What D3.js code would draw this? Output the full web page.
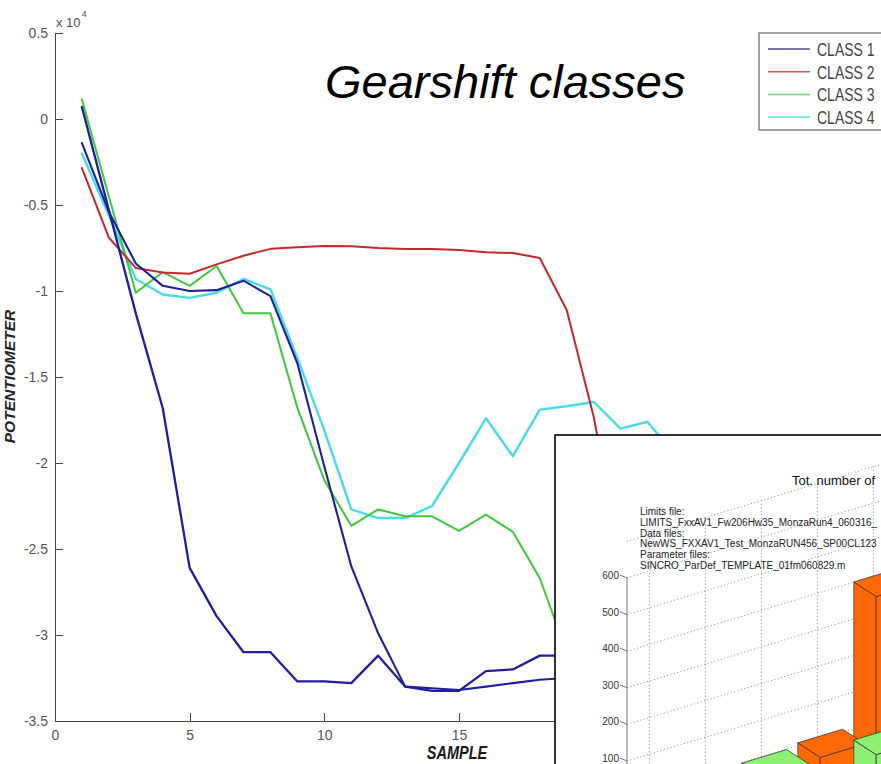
<!DOCTYPE html>
<head>
  <meta charset="utf-8">
  <script src="https://d3js.org/d3.v7.min.js"></script>
  <title>Gearshift classes</title>
  <style>
    body { margin: 0; background: #fff; }
    svg { display: block; font-family: 'Liberation Sans', Arial, sans-serif; }
    .axis path, .axis line { fill: none; stroke: #444; shape-rendering: crispEdges; }
    .axis text { fill: #555; font-size: 14px; font-family: 'Liberation Sans', Arial, sans-serif; }
    .line { fill: none; stroke-linejoin: round; stroke-linecap: round; }
    .grid3d { fill: none; stroke: #8a8a8a; stroke-width: 1; stroke-dasharray: 1,2.5; }
    .bar3d { stroke: #2a2a2a; stroke-width: 0.7; stroke-linejoin: round; }
  </style>
</head>
<body>
<svg width="881" height="764"></svg>
<script>

// ---- main chart data (values in raw units, axis shows x 10^4) ----
var classNames = ["CLASS 1", "CLASS 2", "CLASS 3", "CLASS 4"];
var class1a = [700, -5300, -11300, -16800, -26100, -28900, -31000, -31000, -32700, -32700,
               -32800, -31200, -33000, -33250, -33250, -32100, -32000, -31200, -31200, -31300];
var class1b = [-1400, -5400, -8400, -9700, -10000, -9950, -9400, -10300, -14200, -20200,
               -26000, -29900, -33000, -33100, -33200, -33000, -32800, -32600, -32500, -32400];
var class2 = [-2850, -6900, -8660, -8920, -9000, -8450, -7950, -7550, -7450, -7380,
              -7400, -7500, -7560, -7560, -7620, -7740, -7790, -8080, -11100, -17300, -25500, -31000];
var class3 = [1150, -4500, -10100, -8900, -9700, -8550, -11300, -11300, -16800, -21000,
              -23650, -22700, -23100, -23100, -23950, -23000, -24000, -26700, -31000, -32500];
var class4 = [-2000, -5600, -9300, -10200, -10400, -10100, -9300, -9900, -13900, -18100,
              -22700, -23200, -23200, -22500, -20000, -17400, -19600, -16900, -16700, -16450,
              -18000, -17600, -19500];
var yTicks = [5000, 0, -5000, -10000, -15000, -20000, -25000, -30000, -35000];
var xTicks = [0, 5, 10, 15, 20, 25];

// ---- inset (3D bar screenshot) data ----
var insetTitle = "Tot. number of";
var insetNotes = ["Limits file:", "LIMITS_FxxAV1_Fw206Hw35_MonzaRun4_060316_", "Data files:",
                  "NewWS_FXXAV1_Test_MonzaRUN456_SP00CL123", "Parameter files:",
                  "SINCRO_ParDef_TEMPLATE_01fm060829.m"];
var insetZTicks = [100, 200, 300, 400, 500, 600];
var insetGridZ = [0, 100, 200, 300, 400, 500, 600, 700];
var insetGridU = [1, 2, 3, 4, 5, 6];
var barCol = [4, 3, 3, 1];
var barRow = [3, 3, 5, 5];
var barCount = [554, 161, 268, 298];
var barGroup = [0, 0, 1, 1];

// styles
var seriesColor = { c1: "#1f1f9c", c2: "#c4282a", c3: "#3fc83f", c4: "#46dde6" };
var legendColor = ["#4b4b92", "#c85a5a", "#6ad86a", "#5ee0e4"];
var barColor = ["#ff6a06", "#8cf070"];

var svg = d3.select("svg");

var x = d3.scaleLinear().domain([0, 25]).range([55, 728.3]);
var y = d3.scaleLinear().domain([-35000, 5000]).range([721, 33]);

// axes
svg.append("g")
    .attr("class", "axis")
    .attr("transform", "translate(0,721)")
    .call(d3.axisBottom(x).tickValues(xTicks).tickSize(-8).tickSizeOuter(0).tickPadding(9)
        .tickFormat(function(d) { return String(d); }));

svg.append("g")
    .attr("class", "axis")
    .attr("transform", "translate(55,0)")
    .call(d3.axisLeft(y).tickValues(yTicks).tickSize(-8).tickSizeOuter(0).tickPadding(7)
        .tickFormat(function(d) { return String(d / 10000); }));

svg.append("text").attr("x", 56).attr("y", 26.5)
    .attr("font-size", 13).attr("fill", "#555").text("x 10");
svg.append("text").attr("x", 81.5).attr("y", 16.5)
    .attr("font-size", 9.5).attr("fill", "#555").text("4");

// axis labels (the source figure is squeezed sideways, so glyphs are stretched up)
svg.append("text")
    .attr("transform", "translate(15,376.5) rotate(-90)")
    .attr("text-anchor", "middle")
    .attr("font-size", 15.5).attr("font-style", "italic").attr("font-weight", "bold")
    .attr("fill", "#222").text("POTENTIOMETER");

svg.append("text")
    .attr("transform", "translate(457,759) scale(1,1.3)")
    .attr("text-anchor", "middle")
    .attr("font-size", 14.5).attr("font-style", "italic").attr("font-weight", "bold")
    .attr("fill", "#1a1a1a").text("SAMPLE");

// lines
var line = d3.line()
    .x(function(d, i) { return x(i + 1); })
    .y(function(d) { return y(d); });

var series = [
  { values: class4, color: seriesColor.c4, w: 2.4 },
  { values: class3, color: seriesColor.c3, w: 2 },
  { values: class2, color: seriesColor.c2, w: 2 },
  { values: class1b, color: seriesColor.c1, w: 2.1 },
  { values: class1a, color: seriesColor.c1, w: 2.3 }
];

svg.selectAll(".line")
    .data(series)
    .enter().append("path")
    .attr("class", "line")
    .attr("d", function(d) { return line(d.values); })
    .style("stroke", function(d) { return d.color; })
    .style("stroke-width", function(d) { return d.w; });

// title
svg.append("text")
    .attr("x", 325).attr("y", 98)
    .attr("font-size", 47).attr("font-style", "italic")
    .attr("fill", "#000").text("Gearshift classes");

// legend
var legend = svg.append("g").attr("transform", "translate(759,33)");
legend.append("rect")
    .attr("width", 140).attr("height", 97)
    .attr("fill", "#fff").attr("stroke", "#666").attr("stroke-width", 1.2);
var items = legend.selectAll(".item")
    .data(classNames)
    .enter().append("g")
    .attr("class", "item")
    .attr("transform", function(d, i) { return "translate(0," + (16 + i * 22.7) + ")"; });
items.append("line")
    .attr("x1", 9).attr("x2", 51)
    .attr("stroke", function(d, i) { return legendColor[i]; })
    .attr("stroke-width", 1.5);
items.append("text")
    .attr("transform", "translate(58,7) scale(1,1.3)")
    .attr("font-size", 14).attr("fill", "#444")
    .text(function(d) { return d; });

// ---- inset: 3D bar chart screenshot ----
var inset = svg.append("g");
inset.append("rect")
    .attr("x", 555).attr("y", 435)
    .attr("width", 360).attr("height", 360)
    .attr("fill", "#fff").attr("stroke", "#000").attr("stroke-width", 1.6);

var zS = d3.scaleLinear().domain([0, 600]).range([797.6, 578]);
var uS = d3.scaleLinear().domain([0.6, 1.6]).range([0, 56]);
var wS = d3.scaleLinear().domain([0.5, 1.5]).range([0, 28]);
function proj(u, w, z) {
  return [627 + uS(u) + wS(w), zS(z) - 0.304 * uS(u) + 0.65 * wS(w)];
}

// back wall grid
var gridLine = d3.line();
inset.selectAll(".gz")
    .data(insetGridZ)
    .enter().append("path")
    .attr("class", "grid3d")
    .attr("d", function(z) { return gridLine([proj(0.6, 0.5, z), proj(6.6, 0.5, z)]); });
inset.selectAll(".gu")
    .data(insetGridU)
    .enter().append("path")
    .attr("class", "grid3d")
    .attr("d", function(u) { return gridLine([proj(u, 0.5, 0), proj(u, 0.5, 700)]); });

// z axis
inset.append("line")
    .attr("x1", proj(0.6, 0.5, 0)[0]).attr("y1", proj(0.6, 0.5, 0)[1])
    .attr("x2", proj(0.6, 0.5, 600)[0]).attr("y2", proj(0.6, 0.5, 600)[1])
    .attr("stroke", "#777").attr("stroke-width", 1);
var zt = inset.selectAll(".zt")
    .data(insetZTicks)
    .enter().append("g");
zt.append("line")
    .attr("x1", function(z) { return proj(0.6, 0.5, z)[0] - 7; })
    .attr("y1", function(z) { return proj(0.6, 0.5, z)[1] - 3; })
    .attr("x2", function(z) { return proj(0.6, 0.5, z)[0]; })
    .attr("y2", function(z) { return proj(0.6, 0.5, z)[1]; })
    .attr("stroke", "#777");
zt.append("text")
    .attr("x", function(z) { return proj(0.6, 0.5, z)[0] - 8; })
    .attr("y", function(z) { return proj(0.6, 0.5, z)[1] + 1; })
    .attr("text-anchor", "end")
    .attr("font-size", 10).attr("fill", "#333")
    .text(function(z) { return z; });

// bars, painted back to front
var bars = barCol.map(function(c, i) {
  return { u: c, w: barRow[i], h: barCount[i], g: barGroup[i] };
}).sort(function(a, b) { return (a.w - a.u) - (b.w - b.u); });

var poly = d3.line().curve(d3.curveLinearClosed);
bars.forEach(function(b) {
  var u0 = b.u - 0.4, u1 = b.u + 0.4, w0 = b.w - 0.4, w1 = b.w + 0.4;
  var faces = [
    [proj(u0, w0, 0), proj(u0, w1, 0), proj(u0, w1, b.h), proj(u0, w0, b.h)],
    [proj(u0, w1, 0), proj(u1, w1, 0), proj(u1, w1, b.h), proj(u0, w1, b.h)],
    [proj(u0, w0, b.h), proj(u1, w0, b.h), proj(u1, w1, b.h), proj(u0, w1, b.h)]
  ];
  inset.selectAll(null)
      .data(faces)
      .enter().append("path")
      .attr("class", "bar3d")
      .attr("fill", barColor[b.g])
      .attr("d", function(f) { return poly(f); });
});

// inset texts
inset.append("text")
    .attr("x", 792).attr("y", 485)
    .attr("font-size", 13).attr("fill", "#111")
    .text(insetTitle);
inset.selectAll(".note")
    .data(insetNotes)
    .enter().append("text")
    .attr("x", 640)
    .attr("y", function(d, i) { return 515 + i * 10.8; })
    .attr("font-size", 10).attr("fill", "#222")
    .text(function(d) { return d; });

</script>
</body>
